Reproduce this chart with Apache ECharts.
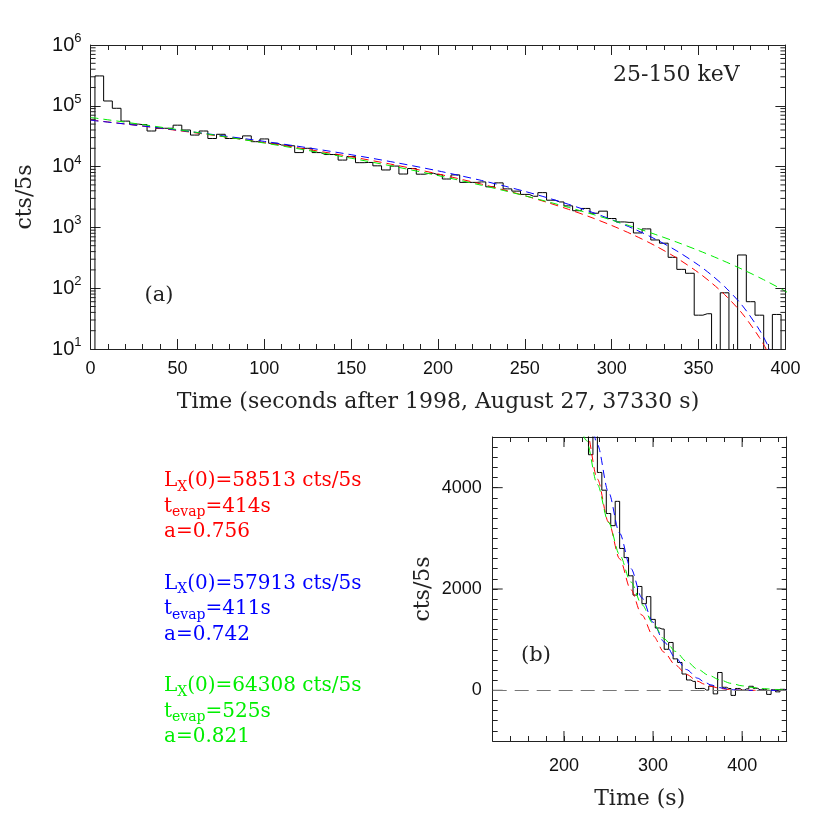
<!DOCTYPE html>
<html><head><meta charset="utf-8">
<script src="https://cdn.jsdelivr.net/npm/echarts@6/dist/echarts.min.js"></script>
<style>html,body{margin:0;padding:0;background:#fff}#c{width:830px;height:830px}</style>
</head><body><div id="c"></div><script>
// ---- data ----
const binTimes = [0,5,10,15,20,25,30,35,40,45,50,55,60,65,70,75,80,85,90,95,100,105,110,115,120,125,130,135,140,145,150,155,160,165,170,175,180,185,190,195,200,205,210,215,220,225,230,235,240,245,250,255,260,265,270,275,280,285,290,295,300,305,310,315,320,325,330,335,340,345,350,355,360,365,370,375,380,385,390,395,400,405,410,415,420,425,430,435,440,445,450];
const counts = [0,310000,120000,91000,56000,50000,49000,38500,42700,42700,48000,40000,33000,38500,29000,34000,29000,29000,32000,25700,28500,24200,22600,22000,17000,20000,17000,15800,15800,12800,14600,11600,11700,10300,8800,10200,7550,9300,7500,7760,7360,6250,7300,5500,5500,5600,4650,5400,4300,3950,3490,3250,3730,2800,2620,2260,1880,2050,1710,1850,1400,1230,1210,810,945,621,550,322,204,176,36,38,5,84,-70,352,60,36,-100,37,5,30,80,40,10,20,-80,10,-30,20,10];

const redT = [0,25,50,75,100,125,150,175,200,225,237.5,250,262.5,275,287.5,300,312.5,325,337.5,350,357.5,365,375,385,390,400,414,450];
const redV = [58513,48243,39269,31500,24842,19212,14516,10666,7574,5155,4170,3321,2596,1988,1485,1076,751,500,313,180,122,78.6,38.8,15.5,8.6,1.6,0,0];
const blueT = [0,25,50,75,100,125,150,175,200,225,237.5,250,262.5,275,287.5,300,312.5,325,337.5,350,357.5,365,375,385,390,395,400,411,450];
const blueV = [57913,48349,39880,32442,25974,20411,15690,11745,8510,5923,4848,3911,3099,2406,1824,1342,952,644,410,240,164.5,106.5,52.6,20.7,11.2,5.1,1.7,0,0];
const greenT = [0,25,50,75,100,125,150,175,200,225,237.5,250,262.5,275,287.5,300,312.5,325,337.5,350,362.5,375,387.5,400,412.5,425,437.5,450];
const greenV = [64308,51413,40635,31712,24398,18475,13741,10013,7129,4937,4062,3313,2676,2139,1690,1320,1015,769,572,417,297,205.5,137.8,89,54.9,32,17.3,8.6];

const fitL0 = [58513, 57913, 64308];
const fitTevap = [414, 411, 525];
const fitA = ['0.756', '0.742', '0.821'];
const fitColors = ['#ff0000', '#0000ff', '#00ee00'];

const logMinorTicks = [20,30,40,50,60,70,80,90,200,300,400,500,600,700,800,900,2000,3000,4000,5000,6000,7000,8000,9000,20000,30000,40000,50000,60000,70000,80000,90000,200000,300000,400000,500000,600000,700000,800000,900000];
const majorTicksBx = [200, 300, 400];
const majorTicksBy = [0, 2000, 4000];
const labelsBy = [0, 2000, 4000];

const xTitleTop = 'Time (seconds after 1998, August 27, 37330 s)';
const xTitleBot = 'Time (s)';
const yTitle = 'cts/5s';

// ---- helpers ----
const AX = '#222';
const serif = 'DejaVu Serif';
const sans = 'Liberation Sans';
function pairs(ts, vs, filt) {
  const out = [];
  for (let i = 0; i < ts.length; i++) { if (!filt || filt(vs[i])) out.push([ts[i], vs[i]]); }
  return out;
}
function baseAxis(extra) {
  return Object.assign({
    type: 'value',
    axisLine: { show: true, onZero: false, lineStyle: { color: AX, width: 1 } },
    axisTick: { show: true, inside: true, length: 5, lineStyle: { color: AX } },
    splitLine: { show: false },
    axisLabel: { show: false }
  }, extra);
}
const labelStyle = { show: true, fontFamily: sans, fontSize: 18, color: '#111' };
const titleStyle = { fontFamily: serif, fontSize: 22, color: '#222' };

const curveStyle = (c) => ({ color: c, width: 1, type: [8, 5] });

const chart = echarts.init(document.getElementById('c'), null, { renderer: 'canvas' });

const topHist = binTimes.map((t, i) => [t, Math.max(counts[i], 1)]);
const botHist = binTimes.map((t, i) => [t, counts[i]]);

function tickLines(points) {
  return { type: 'group', children: points.map(p => ({
    type: 'line', shape: { x1: p[0], y1: p[1], x2: p[2], y2: p[3] },
    style: { stroke: AX, lineWidth: 1 } })) };
}

const option = {
  backgroundColor: '#fff',
  animation: false,
  grid: [
    { left: 90.6, top: 45, width: 694.8, height: 304 },
    { left: 492.7, top: 437, width: 294, height: 304 }
  ],
  xAxis: [
    baseAxis({ gridIndex: 0, position: 'bottom', min: 0, max: 400, interval: 50,
      axisTick: { show: true, inside: true, length: 10, lineStyle: { color: AX } },
      minorTick: { show: true, splitNumber: 5, length: 5, lineStyle: { color: AX } },
      axisLabel: Object.assign({ margin: 11 }, labelStyle),
      name: xTitleTop, nameLocation: 'middle', nameGap: 42, nameTextStyle: titleStyle }),
    baseAxis({ gridIndex: 0, position: 'top', min: 0, max: 400, interval: 50,
      axisTick: { show: true, inside: true, length: 10, lineStyle: { color: AX } },
      minorTick: { show: true, splitNumber: 5, length: 5, lineStyle: { color: AX } } }),
    baseAxis({ gridIndex: 1, position: 'bottom', min: 120, max: 450, interval: 20,
      axisLabel: Object.assign({ margin: 16, interval: 0,
        formatter: v => (majorTicksBx.indexOf(v) >= 0 ? String(v) : '') }, labelStyle),
      name: xTitleBot, nameLocation: 'middle', nameGap: 47, nameTextStyle: titleStyle }),
    baseAxis({ gridIndex: 1, position: 'top', min: 120, max: 450, interval: 20 })
  ],
  yAxis: [
    baseAxis({ gridIndex: 0, type: 'log', logBase: 10, min: 10, max: 1000000, position: 'left',
      axisTick: { show: true, inside: true, length: 10, lineStyle: { color: AX } },
      axisLabel: { show: true, margin: 9, color: '#111',
        formatter: v => '{b|10}{s|' + Math.round(Math.log10(v)) + '}',
        rich: { b: { fontFamily: sans, fontSize: 20, lineHeight: 26, verticalAlign: 'middle', color: '#111' },
                s: { fontFamily: sans, fontSize: 13, lineHeight: 13, verticalAlign: 'top', color: '#111' } } },
      name: yTitle, nameLocation: 'middle', nameGap: 54, nameRotate: 90, nameTextStyle: titleStyle }),
    baseAxis({ gridIndex: 0, type: 'log', logBase: 10, min: 10, max: 1000000, position: 'right',
      axisTick: { show: true, inside: true, length: 10, lineStyle: { color: AX } } }),
    baseAxis({ gridIndex: 1, position: 'left', min: -1000, max: 5000, interval: 200,
      axisLabel: Object.assign({ margin: 11, interval: 0,
        formatter: v => (labelsBy.indexOf(v) >= 0 ? String(v) : '') }, labelStyle),
      name: yTitle, nameLocation: 'middle', nameGap: 58, nameRotate: 90, nameTextStyle: titleStyle }),
    baseAxis({ gridIndex: 1, position: 'right', min: -1000, max: 5000, interval: 200 })
  ],
  series: [
    { type: 'line', xAxisIndex: 0, yAxisIndex: 0, data: topHist, step: 'middle', showSymbol: false,
      symbol: 'none', clip: true, lineStyle: { color: '#000', width: 1 }, z: 2 },
    { type: 'line', xAxisIndex: 0, yAxisIndex: 0, data: pairs(redT, redV, v => v > 0), smooth: 0.3,
      symbol: 'none', clip: true, lineStyle: curveStyle(fitColors[0]), z: 3 },
    { type: 'line', xAxisIndex: 0, yAxisIndex: 0, data: pairs(blueT, blueV, v => v > 0), smooth: 0.3,
      symbol: 'none', clip: true, lineStyle: curveStyle(fitColors[1]), z: 3 },
    { type: 'line', xAxisIndex: 0, yAxisIndex: 0, data: pairs(greenT, greenV, v => v > 0), smooth: 0.3,
      symbol: 'none', clip: true, lineStyle: curveStyle(fitColors[2]), z: 3 },
    { type: 'custom', xAxisIndex: 0, yAxisIndex: 0, clip: false, silent: true, z: 4,
      data: logMinorTicks.map(v => [0, v]),
      renderItem: (params, api) => {
        const v = api.value(1);
        const a = api.coord([0, v]), b = api.coord([400, v]);
        return tickLines([[a[0], a[1], a[0] + 5, a[1]], [b[0] - 5, b[1], b[0], b[1]]]);
      } },
    { type: 'line', xAxisIndex: 2, yAxisIndex: 2, data: botHist, step: 'middle',
      symbol: 'none', clip: true, lineStyle: { color: '#000', width: 1 }, z: 2,
      markLine: { silent: true, symbol: 'none', label: { show: false },
        lineStyle: { color: '#777', width: 1, type: [14, 8] }, data: [{ yAxis: 0 }] } },
    { type: 'line', xAxisIndex: 2, yAxisIndex: 2, data: pairs(redT, redV), smooth: 0.3, smoothMonotone: 'x',
      symbol: 'none', clip: true, lineStyle: curveStyle(fitColors[0]), z: 3 },
    { type: 'line', xAxisIndex: 2, yAxisIndex: 2, data: pairs(blueT, blueV), smooth: 0.3, smoothMonotone: 'x',
      symbol: 'none', clip: true, lineStyle: curveStyle(fitColors[1]), z: 3 },
    { type: 'line', xAxisIndex: 2, yAxisIndex: 2, data: pairs(greenT, greenV), smooth: 0.3, smoothMonotone: 'x',
      symbol: 'none', clip: true, lineStyle: curveStyle(fitColors[2]), z: 3 },
    { type: 'custom', xAxisIndex: 2, yAxisIndex: 2, clip: false, silent: true, z: 4,
      data: majorTicksBx.map(v => [v, 0]),
      renderItem: (params, api) => {
        const v = api.value(0);
        const a = api.coord([v, -1000]), b = api.coord([v, 5000]);
        return tickLines([[a[0], a[1], a[0], a[1] - 10], [b[0], b[1], b[0], b[1] + 10]]);
      } },
    { type: 'custom', xAxisIndex: 2, yAxisIndex: 2, clip: false, silent: true, z: 4,
      data: majorTicksBy.map(v => [120, v]),
      renderItem: (params, api) => {
        const v = api.value(1);
        const a = api.coord([120, v]), b = api.coord([450, v]);
        return tickLines([[a[0], a[1], a[0] + 10, a[1]], [b[0] - 10, b[1], b[0], b[1]]]);
      } }
  ],
  graphic: []
};

// text annotations
option.graphic.push({ type: 'text', x: 613, y: 75, silent: true,
  style: { text: '25-150 keV', fontFamily: serif, fontSize: 22, fill: '#222', align: 'left', verticalAlign: 'middle' } });
option.graphic.push({ type: 'text', x: 159, y: 296, silent: true,
  style: { text: '(a)', fontFamily: serif, fontSize: 21, fill: '#222', align: 'center', verticalAlign: 'middle' } });
option.graphic.push({ type: 'text', x: 536, y: 656, silent: true,
  style: { text: '(b)', fontFamily: serif, fontSize: 21, fill: '#222', align: 'center', verticalAlign: 'middle' } });

for (let i = 0; i < 3; i++) {
  const y0 = 481 + i * 102.5;
  const col = fitColors[i];
  const rich = {
    m: { fontFamily: serif, fontSize: 20, lineHeight: 26, verticalAlign: 'middle', fill: col },
    s: { fontFamily: serif, fontSize: 14, lineHeight: 13, verticalAlign: 'bottom', fill: col }
  };
  const lines = [
    '{m|L}{s|X}{m|(0)=' + fitL0[i] + ' cts/5s}',
    '{m|t}{s|evap}{m|=' + fitTevap[i] + 's}',
    '{m|a=' + fitA[i] + '}'
  ];
  lines.forEach((txt, j) => {
    option.graphic.push({ type: 'text', x: 164, y: y0 + j * 25.5, silent: true,
      style: { text: txt, rich: rich, fill: col, fontFamily: serif, fontSize: 20, align: 'left', verticalAlign: 'middle' } });
  });
}

chart.setOption(option);
</script></body></html>
